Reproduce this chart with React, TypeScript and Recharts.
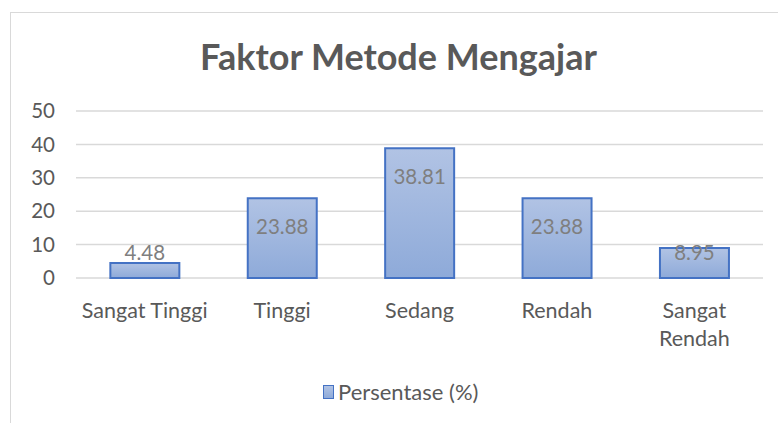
import { BarChart, Bar, XAxis, YAxis, CartesianGrid, LabelList } from "recharts";

const title = "Faktor Metode Mengajar";
const seriesName = "Persentase (%)";
const categories = ["Sangat Tinggi", "Tinggi", "Sedang", "Rendah", "Sangat Rendah"];
// how Excel wrapped the category names
const categoryLines = [["Sangat Tinggi"], ["Tinggi"], ["Sedang"], ["Rendah"], ["Sangat", "Rendah"]];
const persentase = [4.48, 23.88, 38.81, 23.88, 8.95];
const yTicks = [0, 10, 20, 30, 40, 50];

const data = categories.map((name, i) => ({ name, value: persentase[i] }));

const FONT = "Lato, 'Open Sans', sans-serif";
const GRAY = "#595959";
const GRID = "#d9d9d9";
const BLUE = "#4472c4";

const CategoryTick = (props: any) => {
  const { x, y, payload } = props;
  const lines = categoryLines[payload.index] || [payload.value];
  return (
    <text x={x} y={y} textAnchor="middle" fill={GRAY} fontSize={21.5} fontFamily={FONT}>
      {lines.map((l: string, i: number) => (
        <tspan key={i} x={x} dy={i === 0 ? 32 : 28}>
          {l}
        </tspan>
      ))}
    </text>
  );
};

// Excel "inside end" labels, pushed up to sit on short bars
const ValueLabel = (props: any) => {
  const { x, y, width, height, value } = props;
  const base = y + height;
  const cy = Math.min(y + 29, base - 25);
  return (
    <text
      x={x + width / 2}
      y={cy}
      dy={7}
      textAnchor="middle"
      fill="#7f7f7f"
      fontSize={20.5}
      fontFamily={FONT}
    >
      {value}
    </text>
  );
};

export default function App() {
  return (
    <div
      style={{
        position: "absolute",
        left: 0,
        top: 0,
        width: 778,
        height: 423,
        background: "#fff",
        overflow: "hidden",
        fontFamily: FONT,
      }}
    >
      {/* chart frame, only top and left visible in the crop */}
      <div
        style={{
          position: "absolute",
          left: 10,
          top: 12,
          width: 780,
          height: 430,
          borderTop: `1.5px solid ${GRID}`,
          borderLeft: `1.5px solid ${GRID}`,
        }}
      />
      <div
        style={{
          position: "absolute",
          left: 0,
          width: 797,
          top: 34,
          textAlign: "center",
          fontSize: 36,
          fontWeight: 700,
          color: GRAY,
        }}
      >
        {title}
      </div>

      <div style={{ position: "absolute", left: 0, top: 0 }}>
        <BarChart
          width={778}
          height={423}
          data={data}
          margin={{ top: 111, right: 15, left: 10, bottom: 105 }}
          barCategoryGap="25%"
        >
          <defs>
            <linearGradient id="barFill" x1="0" y1="0" x2="0" y2="1">
              <stop offset="0%" stopColor="#b1c3e4" />
              <stop offset="100%" stopColor="#8eaad9" />
            </linearGradient>
          </defs>
          <CartesianGrid vertical={false} stroke={GRID} strokeWidth={1.5} />
          <XAxis
            dataKey="name"
            axisLine={false}
            tickLine={false}
            interval={0}
            height={40}
            tick={<CategoryTick />}
          />
          <YAxis
            width={66}
            domain={[0, 50]}
            ticks={yTicks}
            axisLine={false}
            tickLine={false}
            tickMargin={15}
            tick={{ fill: GRAY, fontSize: 20.5, fontFamily: FONT }}
          />
          <Bar
            dataKey="value"
            name={seriesName}
            fill="url(#barFill)"
            stroke={BLUE}
            strokeWidth={2}
            isAnimationActive={false}
          >
            <LabelList dataKey="value" content={<ValueLabel />} />
          </Bar>
        </BarChart>
      </div>

      {/* legend */}
      <div
        style={{
          position: "absolute",
          left: 323,
          top: 378,
          display: "flex",
          alignItems: "center",
          fontSize: 22,
          color: GRAY,
        }}
      >
        <span
          style={{
            display: "inline-block",
            width: 9,
            height: 12,
            background: "linear-gradient(#b1c3e4, #8eaad9)",
            border: `1.5px solid ${BLUE}`,
            marginRight: 4,
          }}
        />
        <span>{seriesName}</span>
      </div>
    </div>
  );
}
